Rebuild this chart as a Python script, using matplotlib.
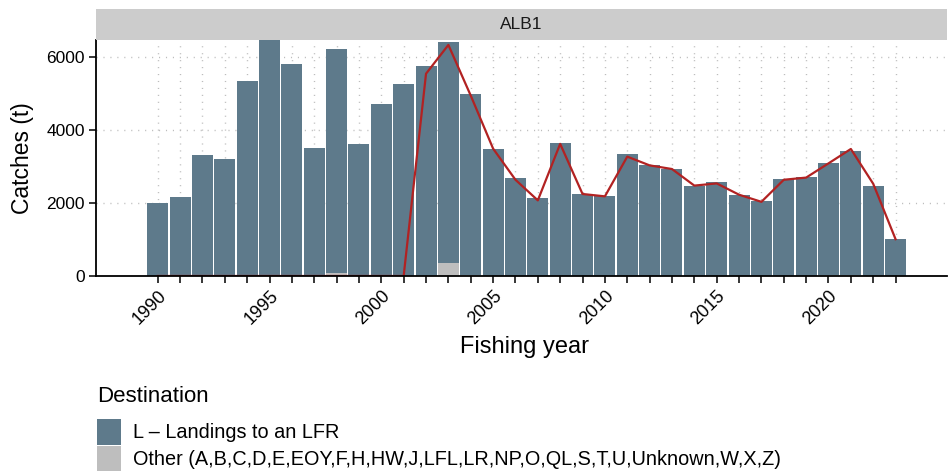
import numpy as np
import matplotlib
matplotlib.use("Agg")
import matplotlib.pyplot as plt
from matplotlib.patches import Patch

plt.rcParams['font.family'] = ['Liberation Sans', 'DejaVu Sans']

# data
years = list(range(1990, 2024))
landings = [1990, 2180, 3330, 3220, 5300, 6475, 5790, 3520, 6150, 3630,
            4710, 5255, 5750, 6060, 4960, 3485, 2700, 2150, 3660, 2255,
            2200, 3355, 3055, 2945, 2480, 2590, 2230, 2065, 2670, 2725,
            3070, 3425, 2480, 1020]
other = [0, 0, 0, 0, 40, 0, 40, 0, 70, 0,
         0, 0, 0, 350, 20, 10, 0, 0, 0, 0,
         0, 0, 0, 0, 0, 0, 0, 0, 0, 0,
         40, 15, 0, 0]
line_vals = [0, 0, 0, 0, 0, 0, 0, 0, 0, 0,
             0, 0, 5550, 6340, 4950, 3495, 2640, 2075, 3625, 2250,
             2185, 3275, 3035, 2935, 2480, 2540, 2230, 2035, 2640, 2700,
             3090, 3485, 2530, 1010]
year_labels = [1990, 1995, 2000, 2005, 2010, 2015, 2020]
dest_labels = ["L \u2013 Landings to an LFR",
               "Other (A,B,C,D,E,EOY,F,H,HW,J,LFL,LR,NP,O,QL,S,T,U,Unknown,W,X,Z)"]

col_L = "#5e7a8b"
col_other = "#bebebe"
col_line = "#b22222"

W, H = 949, 473
fig = plt.figure(figsize=(W / 100, H / 100), dpi=100)

# panel geometry in pixels
pl, pr, pt, pb = 96, 947, 40, 276
ax = fig.add_axes([pl / W, (H - pb) / H, (pr - pl) / W, (pb - pt) / H])

ax.bar(years, other, width=0.94, color=col_other, zorder=2)
ax.bar(years, landings, width=0.94, bottom=other, color=col_L, zorder=2)
ax.plot(years, line_vals, color=col_line, lw=1.6, zorder=3)

ax.set_xlim(1987.24, 2025.3)
ax.set_ylim(0, 6475)
ax.set_xticks(years)
ax.set_xticklabels([str(y) if y in year_labels else "" for y in years],
                   rotation=45, ha="right", rotation_mode="anchor")
ax.set_yticks([0, 2000, 4000, 6000])
ax.tick_params(axis="both", direction="out", length=5, width=1.1,
               color="black", labelsize=12.5, labelcolor="black", pad=3)
ax.tick_params(axis="x", labelsize=13)

ax.grid(True, color="#bdbdbd", lw=1.0, linestyle=(0, (0.8, 4.2)), zorder=0)
ax.set_axisbelow(True)
for s in ["top", "right"]:
    ax.spines[s].set_visible(False)
for s in ["left", "bottom"]:
    ax.spines[s].set_linewidth(1.3)
    ax.spines[s].set_zorder(5)

# facet strip
strip = fig.add_axes([pl / W, (H - pt) / H, (pr - pl) / W, 31 / H])
strip.set_facecolor("#cccccc")
strip.set_xticks([])
strip.set_yticks([])
for s in strip.spines.values():
    s.set_visible(False)
strip.text(0.5, 0.5, "ALB1", ha="center", va="center", fontsize=12.5,
           color="#1a1a1a", transform=strip.transAxes)

fig.text(22 / W, 1 - 158 / H, "Catches (t)", rotation=90, ha="center",
         va="center", fontsize=16.5)
fig.text(525 / W, 1 - 347 / H, "Fishing year", ha="center",
         va="center", fontsize=17)

# legend
fig.text(97 / W, 1 - 396 / H, "Destination", ha="left", va="center",
         fontsize=16)
handles = [Patch(facecolor=col_L, edgecolor="none"),
           Patch(facecolor=col_other, edgecolor="none")]
leg = fig.legend(handles, dest_labels, loc="upper left",
                 bbox_to_anchor=(97 / W, 1 - 419 / H), frameon=False,
                 fontsize=14.3, handlelength=1.2, handleheight=1.6,
                 labelspacing=0.05, handletextpad=0.6, borderpad=0,
                 borderaxespad=0)

fig.savefig("out.png", dpi=100)
